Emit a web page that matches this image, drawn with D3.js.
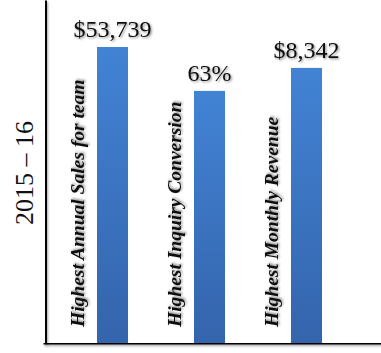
<!DOCTYPE html>
<html>
<head>
<meta charset="utf-8">
<script src="https://cdn.jsdelivr.net/npm/d3@7"></script>
<style>
  body { margin: 0; background: #fff; }
  svg { display: block; }
</style>
</head>
<body>
<div id="chart"></div>
<script>
// chart data
var categories = ['Highest Annual Sales for team', 'Highest Inquiry Conversion', 'Highest Monthly Revenue'];
var valueLabels = ['$53,739', '63%', '$8,342'];
// bar heights as drawn (percent of the plot height), the values use mixed units
var barLevels = [86.3, 73.5, 80.2];
var yTitle = '2015 \u2013 16';

var width = 381, height = 353;
var axisX = 45, axisY = 343;

var svg = d3.select('#chart').append('svg')
  .attr('width', width)
  .attr('height', height);

var defs = svg.append('defs');
var grad = defs.append('linearGradient')
  .attr('id', 'barGrad')
  .attr('x1', 0).attr('y1', 0).attr('x2', 0).attr('y2', 1);
grad.append('stop').attr('offset', '0%').attr('stop-color', '#4283d4');
grad.append('stop').attr('offset', '100%').attr('stop-color', '#3464ac');

var shadow = defs.append('filter').attr('id', 'shadow')
  .attr('x', '-10%').attr('y', '-20%').attr('width', '130%').attr('height', '150%');
shadow.append('feDropShadow')
  .attr('dx', 1.2).attr('dy', 1.2).attr('stdDeviation', 0.9)
  .attr('flood-color', '#000').attr('flood-opacity', 0.45);

// lines have a zero-size box, so this one works in user space
var lineShadow = defs.append('filter').attr('id', 'lineShadow')
  .attr('filterUnits', 'userSpaceOnUse')
  .attr('x', 0).attr('y', 0).attr('width', width).attr('height', height);
lineShadow.append('feDropShadow')
  .attr('dx', 1).attr('dy', 1.5).attr('stdDeviation', 1)
  .attr('flood-color', '#000').attr('flood-opacity', 0.35);

var x = d3.scaleBand()
  .domain(categories)
  .range([axisX, 374])
  .paddingInner(0.68)
  .paddingOuter(0.536);

var y = d3.scaleLinear()
  .domain([0, 100])
  .range([axisY, 0]);

// bars
svg.selectAll('rect.bar')
  .data(categories)
  .enter().append('rect')
  .attr('class', 'bar')
  .attr('x', function(d) { return x(d); })
  .attr('width', x.bandwidth())
  .attr('y', function(d, i) { return y(barLevels[i]); })
  .attr('height', function(d, i) { return axisY - y(barLevels[i]); })
  .attr('fill', 'url(#barGrad)');

// value labels above the bars
svg.selectAll('text.value')
  .data(categories)
  .enter().append('text')
  .attr('class', 'value')
  .attr('x', function(d) { return x(d) + x.bandwidth() / 2; })
  .attr('y', function(d, i) { return y(barLevels[i]) - 10; })
  .attr('text-anchor', 'middle')
  .attr('font-family', '"Liberation Serif", "Times New Roman", serif')
  .attr('font-size', 24)
  .attr('fill', '#111')
  .attr('filter', 'url(#shadow)')
  .text(function(d, i) { return valueLabels[i]; });

// category labels, rotated, left of each bar
svg.selectAll('text.cat')
  .data(categories)
  .enter().append('text')
  .attr('class', 'cat')
  .attr('transform', function(d) {
    return 'translate(' + (x(d) - 13) + ',327) rotate(-90)';
  })
  .attr('font-family', '"Liberation Serif", "Times New Roman", serif')
  .attr('font-size', 19.5)
  .attr('font-weight', 'bold')
  .attr('font-style', 'italic')
  .attr('fill', '#111')
  .attr('filter', 'url(#shadow)')
  .text(function(d) { return d; });

// axes, lines only
var yAxis = d3.axisLeft(y).tickValues([]).tickSizeOuter(0);
var xAxis = d3.axisBottom(x).tickValues([]).tickSizeOuter(0);

var gy = svg.append('g')
  .attr('transform', 'translate(' + axisX + ',0)')
  .call(yAxis);
var gx = svg.append('g')
  .attr('transform', 'translate(0,' + axisY + ')')
  .call(xAxis);
gx.select('.domain').attr('d', 'M' + (axisX - 1.5) + ',0H' + width);

svg.selectAll('.domain')
  .attr('stroke', '#000')
  .attr('stroke-width', 3)
  .attr('filter', 'url(#lineShadow)');

// y title
svg.append('text')
  .attr('transform', 'translate(33,173) rotate(-90)')
  .attr('text-anchor', 'middle')
  .attr('font-family', '"Liberation Serif", "Times New Roman", serif')
  .attr('font-size', 26)
  .attr('fill', '#111')
  .text(yTitle);
</script>
</body>
</html>
